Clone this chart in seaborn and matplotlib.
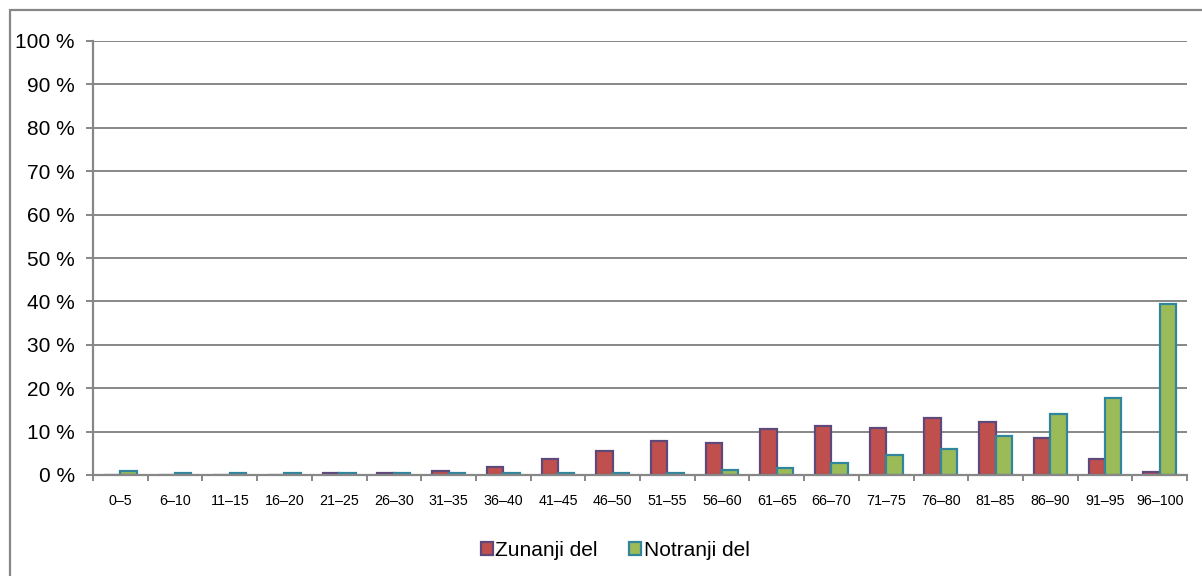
import matplotlib
matplotlib.use("Agg")
import matplotlib.pyplot as plt
import seaborn as sns
import pandas as pd
import numpy as np
from matplotlib.patches import Rectangle, Patch

ranges = ["0–5", "6–10", "11–15", "16–20", "21–25", "26–30", "31–35", "36–40",
          "41–45", "46–50", "51–55", "56–60", "61–65", "66–70", "71–75", "76–80",
          "81–85", "86–90", "91–95", "96–100"]
zunanji = [0.0, 0.0, 0.0, 0.0, 0.4, 0.5, 1.0, 1.9, 3.8, 5.6, 7.9, 7.4, 10.6, 11.4,
           10.9, 13.2, 12.3, 8.6, 3.6, 0.8]
notranji = [1.0, 0.5, 0.5, 0.5, 0.5, 0.5, 0.5, 0.5, 0.5, 0.5, 0.5, 1.1, 1.5, 2.7,
            4.5, 5.9, 9.1, 14.1, 17.8, 39.4]
series = ["Zunanji del", "Notranji del"]
fills = ["#C0504D", "#9BBB59"]
edges = ["#5F497A", "#31859C"]

df = pd.DataFrame({
    "range": ranges * 2,
    "series": [series[0]] * len(ranges) + [series[1]] * len(ranges),
    "value": zunanji + notranji,
})

sns.set_style("white")
plt.rcParams["font.family"] = ["Liberation Sans", "DejaVu Sans"]
plt.rcParams["text.color"] = "black"
plt.rcParams["xtick.color"] = "black"
plt.rcParams["ytick.color"] = "black"

fig = plt.figure(figsize=(12.02, 5.76), dpi=100)
ax = fig.add_axes([93 / 1202, 1 - 475 / 576, (1187 - 93) / 1202, (475 - 41) / 576])

sns.barplot(data=df, x="range", y="value", hue="series", order=ranges,
            hue_order=series, palette=fills, saturation=1, width=0.6, gap=0.0,
            linewidth=1.6, ax=ax, legend=False)
for cont, ec in zip(ax.containers, edges):
    for bar in cont:
        bar.set_edgecolor(ec)

grid_c = "#878787"
ax.set_ylim(0, 100)
ax.set_xlim(-0.5, len(ranges) - 0.5)
ax.set_yticks(np.arange(0, 101, 10))
ax.set_yticklabels([f"{v} %" for v in range(0, 101, 10)], fontsize=15)
ax.yaxis.grid(True, color=grid_c, linewidth=1.4)
ax.set_axisbelow(True)
ax.set_xlabel("")
ax.set_ylabel("")
ax.tick_params(axis="x", which="major", length=0, labelsize=10.3, pad=14,
               labelcolor="black")
ax.set_xticks(np.arange(-0.5, len(ranges)), minor=True)
ax.tick_params(axis="x", which="minor", bottom=True, length=4.5, width=1.4,
               color=grid_c, direction="out")
ax.tick_params(axis="y", left=True, length=5, width=1.4, color=grid_c,
               direction="out", pad=8, labelcolor="black")
for side in ["top", "right"]:
    ax.spines[side].set_visible(False)
for side in ["left", "bottom"]:
    ax.spines[side].set_color(grid_c)
    ax.spines[side].set_linewidth(1.6)

handles = [Patch(facecolor=f, edgecolor=e, linewidth=1.6) for f, e in zip(fills, edges)]
fig.legend(handles, series, loc="center", bbox_to_anchor=(615 / 1202, 1 - 550 / 576),
           ncol=2, frameon=False, fontsize=15, handlelength=0.6, handleheight=0.6,
           handletextpad=0.1, columnspacing=1.5, labelcolor="black")

# outer chart frame, cropped at the right and bottom of the image
fig.patches.append(Rectangle((10 / 1202, -20 / 576), 1220 / 1202, 586 / 576,
                             transform=fig.transFigure, fill=False,
                             edgecolor=grid_c, linewidth=1.6))

fig.savefig("out.png", dpi=100)
